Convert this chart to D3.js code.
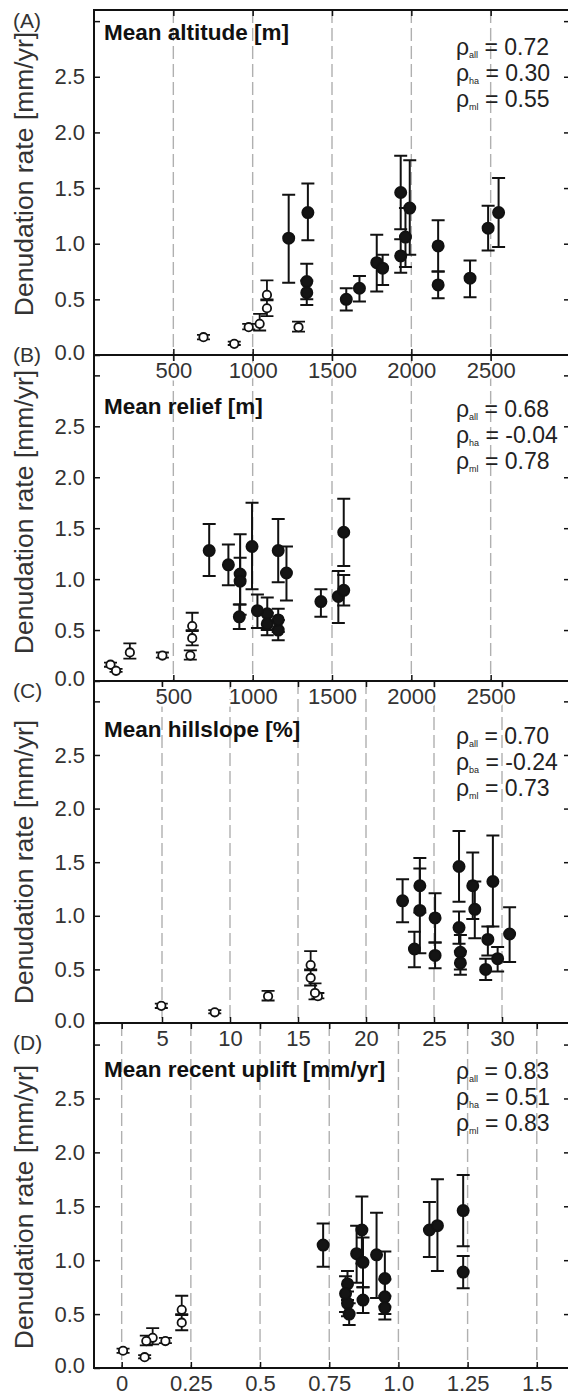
<!DOCTYPE html>
<html>
<head>
<meta charset="utf-8">
<script src="https://cdn.jsdelivr.net/npm/d3@7"></script>
<style>
    body { margin: 0; background: #fff; }
    svg text { font-family: "Liberation Sans", Arial, sans-serif; }
</style>
</head>
<body>
<svg id="chart" width="568" height="1395"></svg>
<script>
// Denudation rate [mm/yr] of each sample, same order in every panel
// filled circles (17 samples)
const rateFilled   = [1.05, 1.28, 0.66, 0.56, 0.50, 0.60, 0.83, 0.78, 1.46, 0.89, 1.06, 1.32, 0.98, 0.63, 0.69, 1.14, 1.28];
const rateFilledLo = [0.65, 1.03, 0.50, 0.45, 0.40, 0.48, 0.57, 0.63, 1.13, 0.74, 0.79, 0.90, 0.75, 0.51, 0.52, 0.94, 0.97];
const rateFilledHi = [1.44, 1.54, 0.82, 0.67, 0.60, 0.71, 1.08, 0.90, 1.79, 1.04, 1.32, 1.75, 1.21, 0.75, 0.85, 1.34, 1.59];
// open circles (7 samples)
const rateOpen   = [0.16, 0.10, 0.25, 0.28, 0.42, 0.54, 0.25];
const rateOpenLo = [0.14, 0.09, 0.23, 0.22, 0.35, 0.49, 0.21];
const rateOpenHi = [0.18, 0.12, 0.28, 0.37, 0.50, 0.67, 0.30];

// x values of the samples per panel
const altitudeFilled = [1227, 1348, 1341, 1341, 1590, 1673, 1782, 1819, 1933, 1933, 1963, 1990, 2169, 2169, 2370, 2484, 2550];
const altitudeOpen   = [690, 884, 975, 1044, 1090, 1090, 1289];
const reliefFilled   = [921, 726, 1092, 1092, 1161, 1161, 1540, 1430, 1574, 1574, 1213, 996, 921, 916, 1030, 847, 1161];
const reliefOpen     = [104, 139, 431, 226, 619, 619, 607];
const slopeFilled    = [23.96, 23.96, 26.94, 26.94, 28.8, 29.68, 30.56, 28.96, 26.84, 26.84, 28.0, 29.33, 25.08, 25.08, 23.56, 22.69, 27.85];
const slopeOpen      = [4.95, 8.88, 16.46, 16.25, 15.93, 15.93, 12.8];
const upliftFilled   = [0.921, 1.112, 0.951, 0.951, 0.822, 0.816, 0.951, 0.816, 1.234, 1.234, 0.849, 1.141, 0.872, 0.872, 0.809, 0.728, 0.868];
const upliftOpen     = [0.005, 0.083, 0.158, 0.112, 0.217, 0.217, 0.089];

// tick values and labels
const metreTicks  = [500, 1000, 1500, 2000, 2500];
const slopeTicks  = [5, 10, 15, 20, 25, 30];
const upliftTicks = [0, 0.25, 0.5, 0.75, 1.0, 1.25, 1.5];
const upliftLabels = ["0", "0.25", "0.5", "0.75", "1.0", "1.25", "1.5"];
const rateTicks   = [0, 0.5, 1.0, 1.5, 2.0, 2.5, 3.0];
const rateLabels  = ["0.0", "0.5", "1.0", "1.5", "2.0", "2.5", ""];

// Spearman correlations
const rhoNames    = ["all", "ha", "ml"];
const rhoNamesC   = ["all", "ba", "ml"];
const rhoAltitude = ["0.72", "0.30", "0.55"];
const rhoRelief   = ["0.68", "-0.04", "0.78"];
const rhoSlope    = ["0.70", "-0.24", "0.73"];
const rhoUplift   = ["0.83", "0.51", "0.83"];

const left = 94, right = 570;

const panels = [
    { id: "(A)", idY: 28, title: "Mean altitude [m]", titleY: 40, top: 10, bottom: 355, yMax: 3.1,
      xDomain: [0, 3000], ticks: metreTicks, labels: metreTicks.map(String),
      xf: altitudeFilled, xo: altitudeOpen, rho: rhoAltitude, names: rhoNames, rhoY: 55, axisTitleY: 174 },
    { id: "(B)", idY: 362, title: "Mean relief [m]", titleY: 414, top: 355, bottom: 681, yMax: 3.2,
      xDomain: [0, 3000], ticks: metreTicks, labels: metreTicks.map(String),
      xf: reliefFilled, xo: reliefOpen, rho: rhoRelief, names: rhoNames, rhoY: 417, axisTitleY: 512 },
    { id: "(C)", idY: 698, title: "Mean hillslope [%]", titleY: 737, top: 681, bottom: 1023, yMax: 3.19,
      xDomain: [0, 35], ticks: slopeTicks, labels: slopeTicks.map(String),
      xf: slopeFilled, xo: slopeOpen, rho: rhoSlope, names: rhoNamesC, rhoY: 744, axisTitleY: 862 },
    { id: "(D)", idY: 1050, title: "Mean recent uplift [mm/yr]", titleY: 1077, top: 1023, bottom: 1368, yMax: 3.2,
      xDomain: [-0.1, 1.62], ticks: upliftTicks, labels: upliftLabels,
      xf: upliftFilled, xo: upliftOpen, rho: rhoUplift, names: rhoNames, rhoY: 1079, axisTitleY: 1207 }
];

const svg = d3.select("#chart");
const gridLayer = svg.append("g");
const dataLayer = svg.append("g");
const axisLayer = svg.append("g");

function drawSeries(layer, xs, ys, lo, hi, x, y, filled) {
    const pts = xs.map((v, i) => ({ x: x(v), y: y(ys[i]), lo: y(lo[i]), hi: y(hi[i]) }));
    const g = layer.append("g").attr("stroke", "#111").attr("stroke-width", filled ? 2 : 1.8);

    g.selectAll("path")
        .data(pts)
        .join("path")
        .attr("fill", "none")
        .attr("d", d => `M${d.x},${d.lo}V${d.hi}M${d.x - 6.5},${d.lo}h13M${d.x - 6.5},${d.hi}h13`);

    g.selectAll("circle")
        .data(pts)
        .join("circle")
        .attr("cx", d => d.x)
        .attr("cy", d => d.y)
        .attr("r", filled ? 5.5 : 4.2)
        .attr("fill", filled ? "#141414" : "#fff");
}

function styleAxis(g) {
    g.select(".domain").remove();
    g.selectAll(".tick line").attr("stroke", "#111").attr("stroke-width", 1.5);
    g.selectAll(".tick text")
        .attr("font-size", 22)
        .attr("font-family", "'Liberation Sans', Arial, sans-serif")
        .attr("fill", "#333");
}

panels.forEach(p => {
    const x = d3.scaleLinear().domain(p.xDomain).range([left, right]);
    const y = d3.scaleLinear().domain([0, p.yMax]).range([p.bottom, p.top]);

    // dashed vertical grid lines
    gridLayer.append("g")
        .selectAll("line")
        .data(p.ticks)
        .join("line")
        .attr("x1", d => x(d))
        .attr("x2", d => x(d))
        .attr("y1", p.top)
        .attr("y2", p.bottom)
        .attr("stroke", "#b0b0b0")
        .attr("stroke-width", 1.4)
        .attr("stroke-dasharray", "13,5");

    drawSeries(dataLayer, p.xf, rateFilled, rateFilledLo, rateFilledHi, x, y, true);
    drawSeries(dataLayer, p.xo, rateOpen, rateOpenLo, rateOpenHi, x, y, false);

    // frame
    axisLayer.append("rect")
        .attr("x", left)
        .attr("y", p.top)
        .attr("width", right - left)
        .attr("height", p.bottom - p.top)
        .attr("fill", "none")
        .attr("stroke", "#111")
        .attr("stroke-width", 2);

    // inward ticks on all four sides
    axisLayer.append("g")
        .attr("transform", `translate(0,${p.top})`)
        .call(d3.axisTop(x).tickValues(p.ticks).tickFormat("").tickSize(-6))
        .call(styleAxis);

    axisLayer.append("g")
        .attr("transform", `translate(${right},0)`)
        .call(d3.axisRight(y).tickValues(rateTicks.slice(1)).tickFormat("").tickSize(-6))
        .call(styleAxis);

    axisLayer.append("g")
        .attr("transform", `translate(${left},0)`)
        .call(d3.axisLeft(y).tickValues(rateTicks).tickFormat((d, i) => rateLabels[i]).tickSize(-6).tickPadding(9))
        .call(styleAxis)
        .call(g => g.selectAll(".tick text").filter(d => d === 0).attr("dy", "0.2em"));

    axisLayer.append("g")
        .attr("class", "xlabels")
        .attr("transform", `translate(0,${p.bottom})`)
        .call(d3.axisBottom(x).tickValues(p.ticks).tickFormat((d, i) => p.labels[i]).tickSize(-6).tickPadding(7))
        .call(styleAxis)
        .call(g => g.selectAll(".tick text")
            .attr("stroke", "#fff")
            .attr("stroke-width", 5)
            .attr("paint-order", "stroke"));

    // panel letter
    axisLayer.append("text")
        .attr("x", 13)
        .attr("y", p.idY)
        .attr("font-size", 21)
        .attr("fill", "#333")
        .text(p.id);

    // y axis title
    axisLayer.append("text")
        .attr("transform", `translate(33,${p.axisTitleY}) rotate(-90)`)
        .attr("text-anchor", "middle")
        .attr("font-size", 26.5)
        .attr("fill", "#333")
        .text("Denudation rate [mm/yr]");

    // panel title
    axisLayer.append("text")
        .attr("x", 104)
        .attr("y", p.titleY)
        .attr("font-size", 22.5)
        .attr("font-weight", "bold")
        .attr("fill", "#111")
        .text(p.title);

    // correlation coefficients
    p.rho.forEach((v, i) => {
        const t = axisLayer.append("text")
            .attr("x", 456)
            .attr("y", p.rhoY + i * 26)
            .attr("font-size", 23)
            .attr("fill", "#222");
        t.append("tspan").text("ρ");
        t.append("tspan").attr("font-size", 9).attr("dy", 3).text(p.names[i]);
        t.append("tspan").attr("dy", -3).text(" = " + v);
    });
});
</script>
</body>
</html>
